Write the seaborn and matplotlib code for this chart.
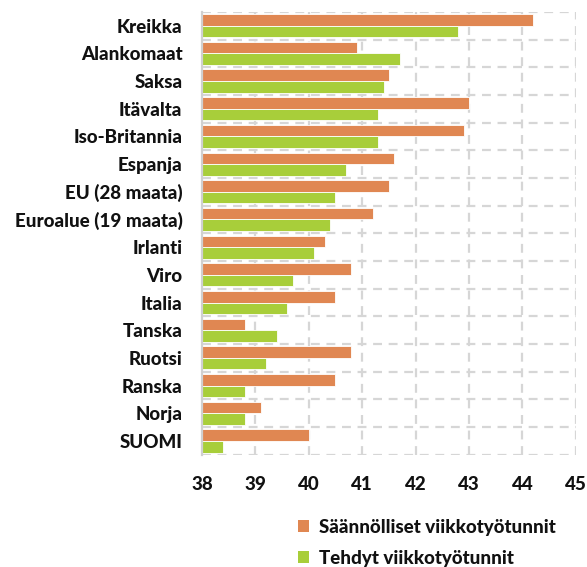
import matplotlib
matplotlib.use("Agg")
import matplotlib.pyplot as plt
import seaborn as sns
import pandas as pd
import numpy as np
from matplotlib.patches import Patch
from matplotlib import font_manager
from matplotlib.font_manager import FontProperties

categories = ["Kreikka", "Alankomaat", "Saksa", "Itävalta", "Iso-Britannia", "Espanja",
              "EU (28 maata)", "Euroalue (19 maata)", "Irlanti", "Viro", "Italia",
              "Tanska", "Ruotsi", "Ranska", "Norja", "SUOMI"]
regular_hours = [44.2, 40.9, 41.5, 43.0, 42.9, 41.6, 41.5, 41.2, 40.3, 40.8, 40.5,
                 38.8, 40.8, 40.5, 39.1, 40.0]
actual_hours = [42.8, 41.7, 41.4, 41.3, 41.3, 40.7, 40.5, 40.4, 40.1, 39.7, 39.6,
                39.4, 39.2, 38.8, 38.8, 38.4]
series_names = ["Säännölliset viikkotyötunnit", "Tehdyt viikkotyötunnit"]
x_ticks = [38, 39, 40, 41, 42, 43, 44, 45]

sns.set_theme(style="white")
plt.rcParams['font.family'] = ['Lato', 'DejaVu Sans']

FS = 13.5
# pick the heaviest non-italic Lato face available
lato_faces = [f for f in font_manager.fontManager.ttflist
              if f.name == "Lato" and f.style == "normal"]
def _w(f):
    w = f.weight
    if isinstance(w, str):
        w = font_manager.weight_dict.get(w, 400)
    return w
if lato_faces:
    heavy = [f for f in lato_faces if _w(f) <= 900]
    best = max(heavy or lato_faces, key=_w)
    font = FontProperties(fname=best.fname, size=FS)
else:
    font = FontProperties(family="DejaVu Sans", weight="bold", size=FS)

df = pd.DataFrame({
    "maa": categories * 2,
    "tunnit": regular_hours + actual_hours,
    "sarja": [series_names[0]] * len(categories) + [series_names[1]] * len(categories),
})

colors = ["#E08752", "#A8CE3A"]

fig = plt.figure(figsize=(5.87, 5.67), dpi=100)
ax = fig.add_axes([0.344, 0.198, 0.637, 0.781])

sns.barplot(data=df, x="tunnit", y="maa", hue="sarja", order=categories,
            hue_order=series_names, palette=colors, saturation=1, orient="h", width=0.84,
            ax=ax, legend=False, edgecolor="white", linewidth=0.6)

ax.set_xlim(38, 45)
ax.set_ylim(len(categories) - 0.5, -0.5)
ax.set_xticks(x_ticks)
ax.set_xticklabels([str(t) for t in x_ticks], fontproperties=font, color="#111111")
ax.set_yticks(range(len(categories)))
ax.set_yticklabels(categories, fontproperties=font, color="#111111")
ax.set_xlabel("")
ax.set_ylabel("")
ax.tick_params(axis="x", length=0, pad=15)
ax.tick_params(axis="y", length=0, pad=14)

grid_kw = dict(color="#D6D6D6", linestyle=(0, (4, 3)), linewidth=1.6, zorder=0)
for t in x_ticks[1:]:
    ax.axvline(t, **grid_kw)
for b in np.arange(-0.5, len(categories), 1.0):
    ax.axhline(b, **grid_kw)
ax.set_axisbelow(True)
for side in ["top", "right", "bottom"]:
    ax.spines[side].set_visible(False)
ax.spines["left"].set_color("#D0D0D0")
ax.spines["left"].set_linewidth(1.6)

handles = [Patch(facecolor=c, edgecolor="none") for c in colors]
leg = fig.legend(handles, series_names, loc="upper left", bbox_to_anchor=(0.495, 0.098),
                 frameon=False, prop=font, handlelength=0.6,
                 handleheight=0.6, handletextpad=0.5, labelspacing=0.75, borderaxespad=0)
for t in leg.get_texts():
    t.set_color("#111111")

fig.savefig("out.png", dpi=100, facecolor="white")
